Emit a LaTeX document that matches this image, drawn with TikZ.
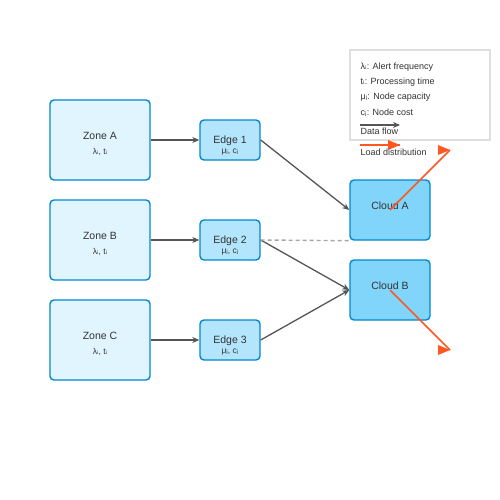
\documentclass[tikz,border=0pt]{standalone}
\usepackage{fontspec}
\setmainfont{Liberation Sans}
\newfontfamily\subfont{DejaVu Sans}
\usetikzlibrary{arrows.meta}
\definecolor{zonefill}{HTML}{E1F5FE}
\definecolor{edgefill}{HTML}{B3E5FC}
\definecolor{cloudfill}{HTML}{81D4FA}
\definecolor{boxline}{HTML}{0288D1}
\definecolor{flowgray}{HTML}{555555}
\definecolor{loadorange}{HTML}{FF5722}
\definecolor{txt}{HTML}{333333}
\newcommand{\ii}{{\subfont ᵢ}}
\newcommand{\jj}{{\subfont ⱼ}}
\begin{document}
\begin{tikzpicture}[x=1pt, y=-1pt, >={Stealth[length=7pt,width=6pt]}, line width=1.4pt,
  box/.style={draw=boxline, rounded corners=4pt, inner sep=0pt},
  zone/.style={box, fill=zonefill, minimum width=100pt, minimum height=80pt},
  edgebox/.style={box, fill=edgefill, minimum width=60pt, minimum height=40pt},
  cloud/.style={box, fill=cloudfill, minimum width=80pt, minimum height=60pt},
  boxtitle/.style={text=txt, font=\fontsize{10.5}{12}\selectfont, inner sep=0pt},
  vars/.style={text=txt, font=\fontsize{8.5}{10}\selectfont, inner sep=0pt},
  legtext/.style={text=txt, font=\fontsize{9}{10}\selectfont, inner sep=0pt, anchor=base west},
  flow/.style={->, draw=flowgray, line width=1.3pt},
  load/.style={draw=loadorange, line width=1.5pt}]
\useasboundingbox (0,0) rectangle (500,500);

% zones
\node[zone] (zoneA) at (100,140) {};
\node[zone] (zoneB) at (100,240) {};
\node[zone] (zoneC) at (100,340) {};
\node[boxtitle] (zoneAname) at (100,136) {Zone A};
\node[vars] (zoneAvars) at (100,152) {λ\ii, t\ii};
\node[boxtitle] (zoneBname) at (100,236) {Zone B};
\node[vars] (zoneBvars) at (100,252) {λ\ii, t\ii};
\node[boxtitle] (zoneCname) at (100,336) {Zone C};
\node[vars] (zoneCvars) at (100,352) {λ\ii, t\ii};

% edge nodes
\node[edgebox] (edge1) at (230,140) {};
\node[edgebox] (edge2) at (230,240) {};
\node[edgebox] (edge3) at (230,340) {};
\node[boxtitle] (edge1name) at (230,141) {Edge 1};
\node[vars] (edge1vars) at (230,152) {μ\jj, c\jj};
\node[boxtitle] (edge2name) at (230,241) {Edge 2};
\node[vars] (edge2vars) at (230,252) {μ\jj, c\jj};
\node[boxtitle] (edge3name) at (230,341) {Edge 3};
\node[vars] (edge3vars) at (230,352) {μ\jj, c\jj};

% clouds
\node[cloud] (cloudA) at (390,210) {};
\node[cloud] (cloudB) at (390,290) {};
\node[boxtitle] (cloudAname) at (390,206) {Cloud A};
\node[boxtitle] (cloudBname) at (390,286) {Cloud B};

% data flow
\draw[flow] (zoneA.east) -- (edge1.west);
\draw[flow] (zoneB.east) -- (edge2.west);
\draw[flow] (zoneC.east) -- (edge3.west);
\draw[flow] (edge1.east) -- (cloudA.west);
\draw[flow] (edge2.east) -- (cloudB.west);
\draw[flow] (edge3.east) -- (cloudB.west);
\draw[draw=gray!70, dash pattern=on 4pt off 3pt] (edge2.east) -- (cloudA.south west);

% load distribution
\coordinate (loadA) at (450,150);
\coordinate (loadB) at (450,350);
\draw[load] (cloudA.center) -- (loadA);
\draw[load] (cloudB.center) -- (loadB);
\fill[loadorange] (loadA) -- ++(-12,-5) -- ++(0,10) -- cycle;
\fill[loadorange] (loadB) -- ++(-12,-5) -- ++(0,10) -- cycle;

% legend
\node[draw=gray!25, fill=white, line width=1.2pt, minimum width=140pt, minimum height=90pt, inner sep=0pt] (legend) at (420,95) {};
\node[legtext] (legl) at (360,70) {λ\ii: Alert frequency};
\node[legtext] (legt) at (360,85) {t\ii: Processing time};
\node[legtext] (legm) at (360,100) {μ\jj: Node capacity};
\node[legtext] (legc) at (360,115) {c\jj: Node cost};
\coordinate (flowA) at (360,125);
\coordinate (flowB) at (400,125);
\draw[flow] (flowA) -- (flowB);
\node[legtext] (legflow) at (360,135) {Data flow};
\coordinate (loadC) at (360,145);
\coordinate (loadD) at (400,145);
\draw[load] (loadC) -- (loadD);
\fill[loadorange] (loadD) -- ++(-12,-5) -- ++(0,10) -- cycle;
\node[legtext] (legload) at (360,155) {Load distribution};
\end{tikzpicture}
\end{document}
